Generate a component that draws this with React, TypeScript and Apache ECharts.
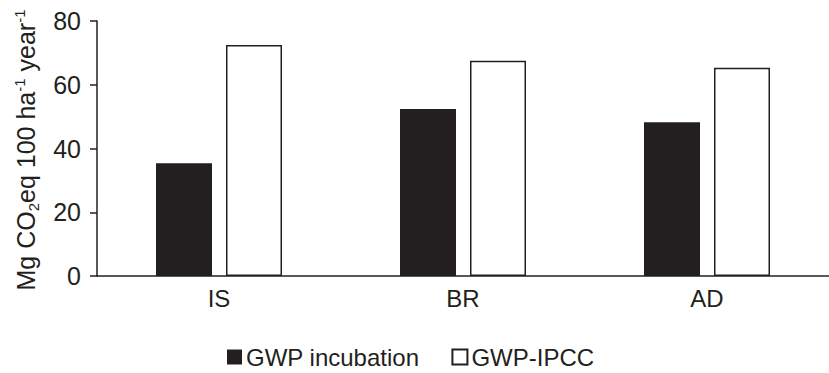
import React, { useEffect, useRef } from "react";
import * as echarts from "echarts";

const categories = ["IS", "BR", "AD"];
const gwpIncubation = [35.4, 52.4, 48.2];
const gwpIPCC = [72.5, 67.5, 65.3];
const yTicks = { min: 0, max: 80, interval: 20 };

const INK = "#231f20";
const FONT = "'Liberation Sans', Arial, sans-serif";

export default function App() {
  const ref = useRef<HTMLDivElement>(null);
  useEffect(() => {
    if (!ref.current) return;
    const chart = echarts.init(ref.current, null, { renderer: "svg" });
    chart.setOption({
      animation: false,
      textStyle: { fontFamily: FONT, color: INK },
      grid: { left: 97, right: 0, top: 21, bottom: 97 },
      xAxis: {
        type: "category",
        data: categories,
        axisLine: { lineStyle: { color: INK, width: 1.5 } },
        axisTick: { show: false },
        axisLabel: { fontSize: 24, color: INK, fontFamily: FONT, margin: 10 },
      },
      yAxis: {
        type: "value",
        min: yTicks.min,
        max: yTicks.max,
        interval: yTicks.interval,
        splitLine: { show: false },
        axisLine: { show: true, lineStyle: { color: INK, width: 1.5 } },
        axisTick: { show: true, length: 7, lineStyle: { color: INK, width: 1.5 } },
        axisLabel: { fontSize: 25, color: INK, fontFamily: FONT, margin: 16 },
      },
      legend: {
        top: 340,
        left: 222,
        itemWidth: 15,
        itemHeight: 15,
        itemGap: 32,
        icon: "rect",
        textStyle: { fontSize: 24, color: INK, fontFamily: FONT, padding: [0, 0, 0, -1] },
        data: ["GWP incubation", "GWP-IPCC"],
      },
      graphic: [
        {
          type: "text",
          x: 26,
          y: 150,
          rotation: Math.PI / 2,
          style: {
            text: "{n|Mg CO}{sub|2}{n|eq 100 ha}{sup|-1}{n| year}{sup|-1}",
            align: "center",
            verticalAlign: "middle",
            fill: INK,
            fontFamily: FONT,
            rich: {
              n: { fontSize: 25, fontFamily: FONT, fill: INK },
              sub: { fontSize: 15, fontFamily: FONT, fill: INK, verticalAlign: "bottom", padding: [14, 0, 0, 0] },
              sup: { fontSize: 15, fontFamily: FONT, fill: INK, verticalAlign: "top", padding: [0, 0, 12, 0] },
            },
          },
        },
      ],
      series: [
        {
          name: "GWP incubation",
          type: "bar",
          data: gwpIncubation,
          barWidth: 56,
          barGap: "25%",
          itemStyle: { color: INK },
        },
        {
          name: "GWP-IPCC",
          type: "bar",
          data: gwpIPCC,
          barWidth: 56,
          itemStyle: { color: "#ffffff", borderColor: INK, borderWidth: 1.5 },
        },
      ],
    });
    return () => chart.dispose();
  }, []);
  return <div ref={ref} style={{ width: 829, height: 373, position: "absolute", left: 0, top: 0 }} />;
}
